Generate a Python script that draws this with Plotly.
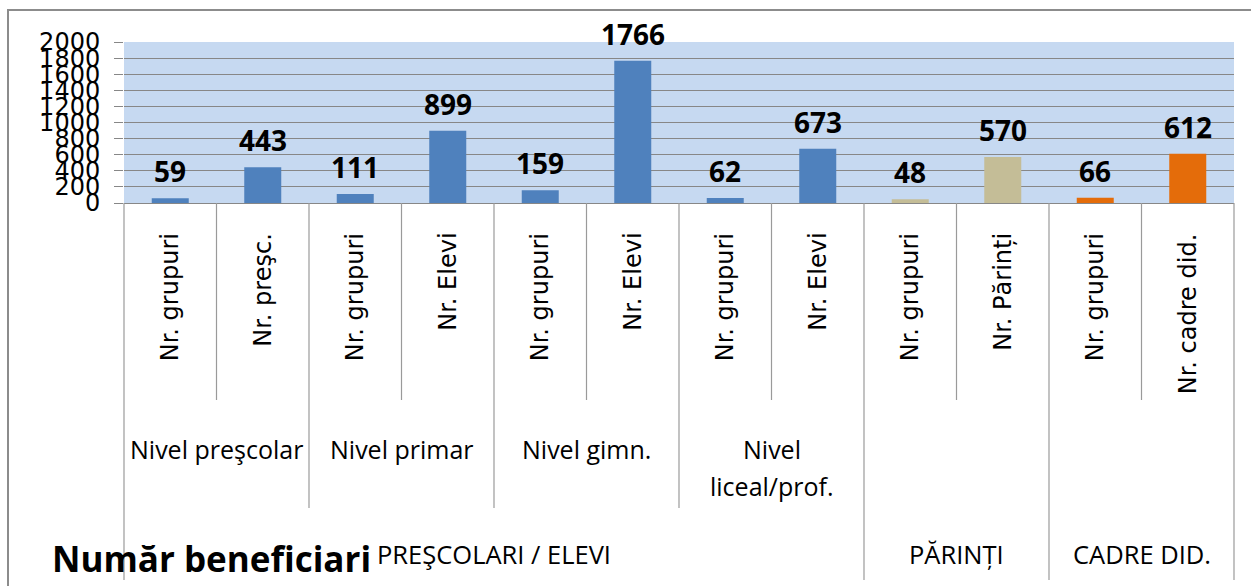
import plotly.graph_objects as go

# ---------------- data ----------------
level1_labels = ["Nr. grupuri", "Nr. preşc.", "Nr. grupuri", "Nr. Elevi", "Nr. grupuri", "Nr. Elevi",
                 "Nr. grupuri", "Nr. Elevi", "Nr. grupuri", "Nr. Părinți", "Nr. grupuri", "Nr. cadre did."]
values = [59, 443, 111, 899, 159, 1766, 62, 673, 48, 570, 66, 612]
level2_labels = ["Nivel preşcolar", "Nivel primar", "Nivel gimn.", "Nivel\nliceal/prof.", "", ""]
level2_span = [2, 2, 2, 2, 2, 2]
level3_labels = ["PREŞCOLARI / ELEVI", "PĂRINȚI", "CADRE DID."]
level3_span = [8, 2, 2]
group_colors = ["#4F81BD", "#C4BD97", "#E46C0A"]
y_ticks = [0, 200, 400, 600, 800, 1000, 1200, 1400, 1600, 1800, 2000]
chart_title = "Număr beneficiari"

# ---------------- layout geometry ----------------
W, H = 1251, 586
PL, PR, PT, PB = 124, 1234, 42, 203  # plot area in px


def xp(px):
    return (px - PL) / (PR - PL)


def yp(py):
    return (PB - py) / (PB - PT)


GRID = "#878787"
LINE = "#9a9a9a"

n = len(values)
x_idx = list(range(n))

colors = []
for g, span in enumerate(level3_span):
    colors += [group_colors[g]] * span

fig = go.Figure()
fig.add_trace(go.Bar(x=x_idx, y=values, marker=dict(color=colors, line=dict(width=0)),
                     width=0.4, hoverinfo="y"))

annotations = []
# data labels
for i, v in enumerate(values):
    annotations.append(dict(x=i, y=v, xref="x", yref="y", text=str(v), showarrow=False,
                            yanchor="bottom", yshift=6,
                            font=dict(family="Open Sans", size=28, color="#000000", weight="bold")))
# level 1 rotated labels
for i, lab in enumerate(level1_labels):
    annotations.append(dict(x=i, y=yp(231), xref="x", yref="paper", text=lab, showarrow=False,
                            textangle=-90, yanchor="top", xanchor="center",
                            font=dict(family="DejaVu Sans", size=24, color="#000000")))
# level 2 labels
start = 0
for lab, span in zip(level2_labels, level2_span):
    center = start + (span - 1) / 2
    for k, line in enumerate(lab.split("\n")):
        if line:
            annotations.append(dict(x=center, y=yp(449 + 37 * k), xref="x", yref="paper", text=line,
                                    showarrow=False, yanchor="middle", xanchor="center",
                                    font=dict(family="Open Sans", size=25, color="#000000")))
    start += span
# level 3 labels
start = 0
for lab, span in zip(level3_labels, level3_span):
    center = start + (span - 1) / 2
    annotations.append(dict(x=center, y=yp(554), xref="x", yref="paper", text=lab,
                            showarrow=False, yanchor="middle", xanchor="center",
                            font=dict(family="Open Sans", size=25.5, color="#000000")))
    start += span
# chart title
annotations.append(dict(x=xp(50), y=yp(558), xref="paper", yref="paper", text=chart_title,
                        showarrow=False, xanchor="left", yanchor="middle",
                        font=dict(family="Open Sans", size=35, color="#000000", weight="bold")))

# category table lines
shapes = []
l3_bounds = set()
acc = 0
for s in level3_span:
    acc += s
    l3_bounds.add(acc)
l2_bounds = set()
acc = 0
for lab, s in zip(level2_labels, level2_span):
    acc += s
    if lab:
        l2_bounds.add(acc)
for b in range(n + 1):
    if b == 0 or b == n or b in l3_bounds:
        bottom = 580
    elif b in l2_bounds:
        bottom = 508
    else:
        bottom = 400
    if b == 0 or b == n:
        shapes.append(dict(type="line", xref="paper", yref="paper", x0=b / n, x1=b / n,
                           y0=0, y1=yp(bottom), line=dict(color=LINE, width=1.2)))
    else:
        shapes.append(dict(type="line", xref="x", yref="paper", x0=b - 0.5, x1=b - 0.5,
                           y0=0, y1=yp(bottom), line=dict(color=LINE, width=1.2)))
# outer chart border
shapes.append(dict(type="rect", xref="paper", yref="paper", x0=xp(8), x1=xp(1262),
                   y0=yp(600), y1=yp(10), line=dict(color="#8c8c8c", width=2), fillcolor="rgba(0,0,0,0)"))

fig.update_layout(
    width=W, height=H,
    margin=dict(l=PL, r=W - PR, t=PT, b=H - PB, autoexpand=False),
    paper_bgcolor="white", plot_bgcolor="#C6D9F1",
    showlegend=False,
    bargap=0.6,
    xaxis=dict(range=[-0.5, n - 0.5], showticklabels=False, showgrid=False, zeroline=False,
               showline=False, ticks="", fixedrange=True),
    yaxis=dict(range=[0, 2000], tickvals=y_ticks, ticktext=[str(t) for t in y_ticks],
               showgrid=True, gridcolor=GRID, gridwidth=1,
               zeroline=True, zerolinecolor=GRID, zerolinewidth=1.2,
               ticks="outside", ticklen=9, tickcolor=GRID, tickwidth=1,
               ticklabelstandoff=9,
               tickfont=dict(family="DejaVu Sans", size=24, color="#000000"),
               showline=False, fixedrange=True),
    annotations=annotations,
    shapes=shapes,
)

fig.write_html("out.html", config={"displayModeBar": False},
               post_script="document.body.style.margin='0';document.body.style.padding='0';")
